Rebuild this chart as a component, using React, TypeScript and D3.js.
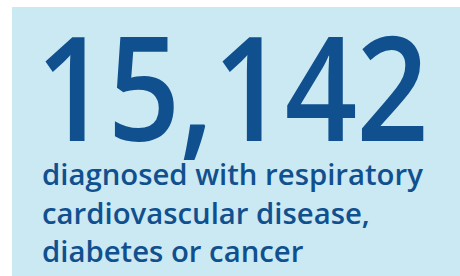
import * as d3 from 'd3';
import React, { useRef, useEffect } from 'react';

const headline = '15,142';
const captionLines = [
  'diagnosed with respiratory',
  'cardiovascular disease,',
  'diabetes or cancer',
];

const W = 460;
const H = 276;
const BG = '#cbe9f3';
const INK = '#11508e';
const FONT = '"Open Sans", sans-serif';

function App() {
  const svgRef = useRef<SVGSVGElement>(null);

  useEffect(() => {
    const svg = d3.select(svgRef.current);
    svg.selectAll('*').remove();

    svg.append('rect').attr('x', 12).attr('y', 7).attr('width', W - 12).attr('height', H - 7).attr('fill', BG);

    const left = 42;

    // big number, cap top ~37, baseline ~141
    const capH = 0.714;
    const bigSize = 104 / capH;
    const big = svg
      .append('text')
      .attr('x', 0)
      .attr('y', 0)
      .attr('fill', INK)
      .style('font-family', FONT)
      .style('font-weight', 600)
      .style('font-size', bigSize + 'px')
      .style('letter-spacing', '-1px')
      .text(headline);
    const bb = (big.node() as SVGTextElement).getBBox();
    const sx = 392 / bb.width;
    big.attr('transform', `translate(${left - 6},141) scale(${sx},1)`);

    // caption lines
    const y = d3.scaleLinear().domain([0, captionLines.length - 1]).range([185, 262]);
    const cap = svg
      .append('g')
      .selectAll('text')
      .data(captionLines)
      .join('text')
      .attr('x', left)
      .attr('y', (_, i) => y(i))
      .attr('fill', INK)
      .style('font-family', FONT)
      .style('font-weight', 600)
      .style('font-size', '30px')
      .text((d) => d);
    const w0 = (cap.nodes()[0] as SVGTextElement).getComputedTextLength();
    cap.style('font-size', (30 * 381) / w0 + 'px');
  }, []);

  return (
    <svg ref={svgRef} width={W} height={H} style={{ position: 'absolute', left: 0, top: 0 }}></svg>
  );
}

export default App;
